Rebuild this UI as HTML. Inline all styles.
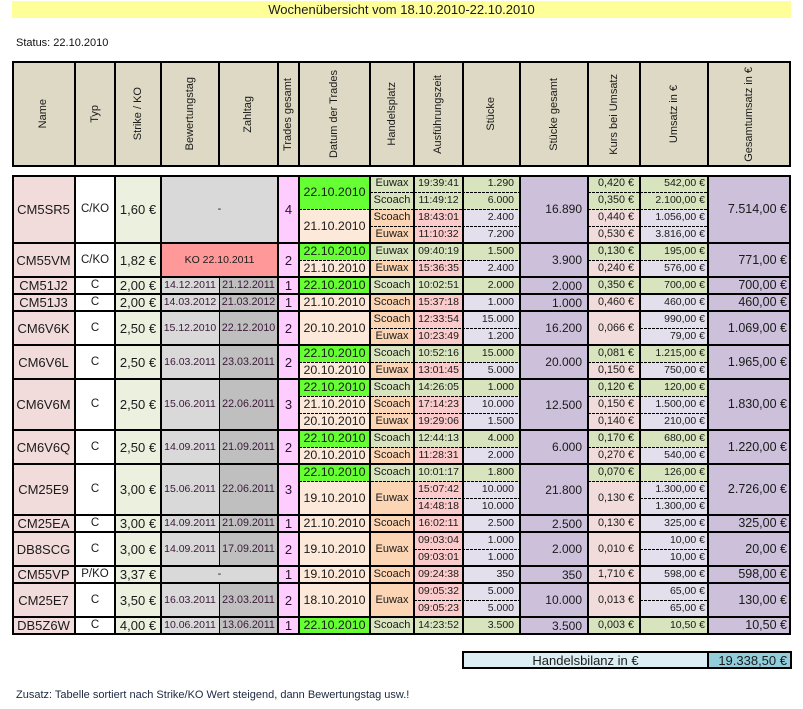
<!DOCTYPE html>
<html><head><meta charset="utf-8">
<style>
html,body{margin:0;padding:0;background:#fff;}
body{width:803px;height:709px;position:relative;overflow:hidden;font-family:"Liberation Sans",Arial,sans-serif;color:#1a1a1a;}
.c{position:absolute;display:flex;align-items:center;justify-content:center;box-sizing:border-box;white-space:nowrap;overflow:hidden;line-height:1;}
.A{left:12px;width:63px;background:#F2DCDB;font-size:13px;}
.B{left:75px;width:40px;background:#fff;font-size:11.5px;display:block;text-align:center;}
.B.h1{line-height:17px;}.B.h2{line-height:34px;}.B.h3{line-height:51px;}.B.h4{line-height:68px;}
.C{left:115px;width:46px;background:#EBF1DE;font-size:13px;}
.D{left:161px;width:58px;background:#D9D9D9;font-size:10.5px;color:#3a1838;}
.E{left:219px;width:59px;background:#BFBFBF;font-size:10.7px;color:#3a1838;}
.DE{left:161px;width:117px;background:#D9D9D9;font-size:11px;}
.KO{background:#FF9999;font-size:10.5px;}
.F{left:278px;width:21px;background:#FFCCFF;font-size:13px;color:#2a1030;}
.G{left:299px;width:71px;background:#FDE9D9;font-size:12.4px;}
.G.g{background:#66FF33;}
.H{left:370px;width:44px;background:#FCD5B4;font-size:11px;}
.I{left:414px;width:49px;background:#FBCACA;font-size:10.5px;}
.J{left:463px;width:57px;background:#E4DFEC;font-size:10.5px;justify-content:flex-end;padding-right:6px;}
.K{left:520px;width:68px;background:#CCC0DA;font-size:12px;justify-content:flex-end;padding-right:6px;}
.L{left:588px;width:52px;background:#F2DCDB;font-size:10.8px;justify-content:flex-end;padding-right:6px;}
.M{left:640px;width:68px;background:#E4DFEC;font-size:10.5px;justify-content:flex-end;padding-right:3px;}
.N{left:708px;width:83px;background:#CCC0DA;font-size:12.5px;justify-content:flex-end;padding-right:4px;}
.v{background:#D7E4BD !important;}
.h1{height:17px;}.h2{height:34px;}.h3{height:51px;}.h4{height:68px;}
.hl{position:absolute;left:12px;width:779px;height:2px;background:#000;}
.vl{position:absolute;top:175px;height:460px;width:2px;background:#000;}
.dl{position:absolute;height:1px;background:repeating-linear-gradient(90deg,#000 0 3px,transparent 3px 4px);}
.GJ{left:299px;width:221px;}.HJ{left:370px;width:150px;}.IJ{left:414px;width:106px;}.LM{left:588px;width:120px;}.Mo{left:640px;width:68px;}
.hd{position:absolute;top:61px;height:106px;display:flex;align-items:center;justify-content:center;font-size:11px;background:#DDD9C4;}
.vt{writing-mode:vertical-rl;transform:rotate(180deg);white-space:nowrap;line-height:1;}
.hv{position:absolute;top:61px;height:106px;width:2px;background:#000;}
</style></head><body>

<!-- Title -->
<div class="c" style="left:12px;top:1px;width:779px;height:17px;background:#FFFF99;font-size:13px;">Wochenübersicht vom 18.10.2010-22.10.2010</div>
<div style="position:absolute;left:16px;top:37px;font-size:11px;line-height:12px;color:#111;">Status: 22.10.2010</div>

<!-- Header -->
<div class="hd" style="left:12px;width:63px;"><span class="vt">Name</span></div>
<div class="hd" style="left:75px;width:40px;"><span class="vt">Typ</span></div>
<div class="hd" style="left:115px;width:46px;"><span class="vt">Strike / KO</span></div>
<div class="hd" style="left:161px;width:58px;"><span class="vt">Bewertungstag</span></div>
<div class="hd" style="left:219px;width:59px;"><span class="vt">Zahltag</span></div>
<div class="hd" style="left:278px;width:21px;"><span class="vt">Trades gesamt</span></div>
<div class="hd" style="left:299px;width:71px;"><span class="vt">Datum der Trades</span></div>
<div class="hd" style="left:370px;width:44px;"><span class="vt">Handelsplatz</span></div>
<div class="hd" style="left:414px;width:49px;"><span class="vt">Ausführungszeit</span></div>
<div class="hd" style="left:463px;width:57px;"><span class="vt">Stücke</span></div>
<div class="hd" style="left:520px;width:68px;"><span class="vt">Stücke gesamt</span></div>
<div class="hd" style="left:588px;width:52px;"><span class="vt">Kurs bei Umsatz</span></div>
<div class="hd" style="left:640px;width:68px;"><span class="vt">Umsatz in €</span></div>
<div class="hd" style="left:708px;width:83px;"><span class="vt">Gesamtumsatz in €</span></div>
<div class="hl" style="top:61px;"></div>
<div class="hl" style="top:165px;"></div>
<div class="hv" style="left:12px;"></div><div class="hv" style="left:789px;"></div>
<div class="hv" style="left:74px;"></div><div class="hv" style="left:114px;"></div><div class="hv" style="left:160px;"></div>
<div class="hv" style="left:218px;"></div><div class="hv" style="left:277px;"></div><div class="hv" style="left:298px;"></div>
<div class="hv" style="left:369px;"></div><div class="hv" style="left:413px;"></div><div class="hv" style="left:462px;"></div>
<div class="hv" style="left:519px;"></div><div class="hv" style="left:587px;"></div><div class="hv" style="left:639px;"></div>
<div class="hv" style="left:707px;"></div>

<!-- G1 CM5SR5 -->
<div class="c A h4" style="top:175px;">CM5SR5</div>
<div class="c B h4" style="top:175px;">C/KO</div>
<div class="c C h4" style="top:175px;">1,60 €</div>
<div class="c DE h4" style="top:175px;">-</div>
<div class="c F h4" style="top:175px;">4</div>
<div class="c G g h2" style="top:175px;">22.10.2010</div>
<div class="c G h2" style="top:209px;">21.10.2010</div>
<div class="c H v h1" style="top:175px;">Euwax</div>
<div class="c H v h1" style="top:192px;">Scoach</div>
<div class="c H h1" style="top:209px;">Scoach</div>
<div class="c H h1" style="top:226px;">Euwax</div>
<div class="c I v h1" style="top:175px;">19:39:41</div>
<div class="c I v h1" style="top:192px;">11:49:12</div>
<div class="c I h1" style="top:209px;">18:43:01</div>
<div class="c I h1" style="top:226px;">11:10:32</div>
<div class="c J v h1" style="top:175px;">1.290</div>
<div class="c J v h1" style="top:192px;">6.000</div>
<div class="c J h1" style="top:209px;">2.400</div>
<div class="c J h1" style="top:226px;">7.200</div>
<div class="c K h4" style="top:175px;">16.890</div>
<div class="c L v h1" style="top:175px;">0,420 €</div>
<div class="c L v h1" style="top:192px;">0,350 €</div>
<div class="c L h1" style="top:209px;">0,440 €</div>
<div class="c L h1" style="top:226px;">0,530 €</div>
<div class="c M v h1" style="top:175px;">542,00 €</div>
<div class="c M v h1" style="top:192px;">2.100,00 €</div>
<div class="c M h1" style="top:209px;">1.056,00 €</div>
<div class="c M h1" style="top:226px;">3.816,00 €</div>
<div class="c N h4" style="top:175px;">7.514,00 €</div>

<!-- G2 CM55VM -->
<div class="c A h2" style="top:243px;">CM55VM</div>
<div class="c B h2" style="top:243px;">C/KO</div>
<div class="c C h2" style="top:243px;">1,82 €</div>
<div class="c DE KO h2" style="top:243px;">KO 22.10.2011</div>
<div class="c F h2" style="top:243px;">2</div>
<div class="c G g h1" style="top:243px;">22.10.2010</div>
<div class="c G h1" style="top:260px;">21.10.2010</div>
<div class="c H v h1" style="top:243px;">Euwax</div>
<div class="c H h1" style="top:260px;">Euwax</div>
<div class="c I v h1" style="top:243px;">09:40:19</div>
<div class="c I h1" style="top:260px;">15:36:35</div>
<div class="c J v h1" style="top:243px;">1.500</div>
<div class="c J h1" style="top:260px;">2.400</div>
<div class="c K h2" style="top:243px;">3.900</div>
<div class="c L v h1" style="top:243px;">0,130 €</div>
<div class="c L h1" style="top:260px;">0,240 €</div>
<div class="c M v h1" style="top:243px;">195,00 €</div>
<div class="c M h1" style="top:260px;">576,00 €</div>
<div class="c N h2" style="top:243px;">771,00 €</div>

<!-- G3 CM51J2 -->
<div class="c A h1" style="top:277px;">CM51J2</div>
<div class="c B h1" style="top:277px;">C</div>
<div class="c C h1" style="top:277px;">2,00 €</div>
<div class="c D h1" style="top:277px;">14.12.2011</div>
<div class="c E h1" style="top:277px;">21.12.2011</div>
<div class="c F h1" style="top:277px;">1</div>
<div class="c G g h1" style="top:277px;">22.10.2010</div>
<div class="c H v h1" style="top:277px;">Scoach</div>
<div class="c I v h1" style="top:277px;">10:02:51</div>
<div class="c J v h1" style="top:277px;">2.000</div>
<div class="c K h1" style="top:277px;">2.000</div>
<div class="c L v h1" style="top:277px;">0,350 €</div>
<div class="c M v h1" style="top:277px;">700,00 €</div>
<div class="c N h1" style="top:277px;">700,00 €</div>

<!-- G4 CM51J3 -->
<div class="c A h1" style="top:294px;">CM51J3</div>
<div class="c B h1" style="top:294px;">C</div>
<div class="c C h1" style="top:294px;">2,00 €</div>
<div class="c D h1" style="top:294px;">14.03.2012</div>
<div class="c E h1" style="top:294px;">21.03.2012</div>
<div class="c F h1" style="top:294px;">1</div>
<div class="c G h1" style="top:294px;">21.10.2010</div>
<div class="c H h1" style="top:294px;">Scoach</div>
<div class="c I h1" style="top:294px;">15:37:18</div>
<div class="c J h1" style="top:294px;">1.000</div>
<div class="c K h1" style="top:294px;">1.000</div>
<div class="c L h1" style="top:294px;">0,460 €</div>
<div class="c M h1" style="top:294px;">460,00 €</div>
<div class="c N h1" style="top:294px;">460,00 €</div>

<!-- G5 CM6V6K -->
<div class="c A h2" style="top:311px;">CM6V6K</div>
<div class="c B h2" style="top:311px;">C</div>
<div class="c C h2" style="top:311px;">2,50 €</div>
<div class="c D h2" style="top:311px;">15.12.2010</div>
<div class="c E h2" style="top:311px;">22.12.2010</div>
<div class="c F h2" style="top:311px;">2</div>
<div class="c G h2" style="top:311px;">20.10.2010</div>
<div class="c H h1" style="top:311px;">Scoach</div>
<div class="c H h1" style="top:328px;">Euwax</div>
<div class="c I h1" style="top:311px;">12:33:54</div>
<div class="c I h1" style="top:328px;">10:23:49</div>
<div class="c J h1" style="top:311px;">15.000</div>
<div class="c J h1" style="top:328px;">1.200</div>
<div class="c K h2" style="top:311px;">16.200</div>
<div class="c L h2" style="top:311px;">0,066 €</div>
<div class="c M h1" style="top:311px;">990,00 €</div>
<div class="c M h1" style="top:328px;">79,00 €</div>
<div class="c N h2" style="top:311px;">1.069,00 €</div>

<!-- G6 CM6V6L -->
<div class="c A h2" style="top:345px;">CM6V6L</div>
<div class="c B h2" style="top:345px;">C</div>
<div class="c C h2" style="top:345px;">2,50 €</div>
<div class="c D h2" style="top:345px;">16.03.2011</div>
<div class="c E h2" style="top:345px;">23.03.2011</div>
<div class="c F h2" style="top:345px;">2</div>
<div class="c G g h1" style="top:345px;">22.10.2010</div>
<div class="c G h1" style="top:362px;">20.10.2010</div>
<div class="c H v h1" style="top:345px;">Scoach</div>
<div class="c H h1" style="top:362px;">Euwax</div>
<div class="c I v h1" style="top:345px;">10:52:16</div>
<div class="c I h1" style="top:362px;">13:01:45</div>
<div class="c J v h1" style="top:345px;">15.000</div>
<div class="c J h1" style="top:362px;">5.000</div>
<div class="c K h2" style="top:345px;">20.000</div>
<div class="c L v h1" style="top:345px;">0,081 €</div>
<div class="c L h1" style="top:362px;">0,150 €</div>
<div class="c M v h1" style="top:345px;">1.215,00 €</div>
<div class="c M h1" style="top:362px;">750,00 €</div>
<div class="c N h2" style="top:345px;">1.965,00 €</div>

<!-- G7 CM6V6M -->
<div class="c A h3" style="top:379px;">CM6V6M</div>
<div class="c B h3" style="top:379px;">C</div>
<div class="c C h3" style="top:379px;">2,50 €</div>
<div class="c D h3" style="top:379px;">15.06.2011</div>
<div class="c E h3" style="top:379px;">22.06.2011</div>
<div class="c F h3" style="top:379px;">3</div>
<div class="c G g h1" style="top:379px;">22.10.2010</div>
<div class="c G h1" style="top:396px;">21.10.2010</div>
<div class="c G h1" style="top:413px;">20.10.2010</div>
<div class="c H v h1" style="top:379px;">Scoach</div>
<div class="c H h1" style="top:396px;">Scoach</div>
<div class="c H h1" style="top:413px;">Euwax</div>
<div class="c I v h1" style="top:379px;">14:26:05</div>
<div class="c I h1" style="top:396px;">17:14:23</div>
<div class="c I h1" style="top:413px;">19:29:06</div>
<div class="c J v h1" style="top:379px;">1.000</div>
<div class="c J h1" style="top:396px;">10.000</div>
<div class="c J h1" style="top:413px;">1.500</div>
<div class="c K h3" style="top:379px;">12.500</div>
<div class="c L v h1" style="top:379px;">0,120 €</div>
<div class="c L h1" style="top:396px;">0,150 €</div>
<div class="c L h1" style="top:413px;">0,140 €</div>
<div class="c M v h1" style="top:379px;">120,00 €</div>
<div class="c M h1" style="top:396px;">1.500,00 €</div>
<div class="c M h1" style="top:413px;">210,00 €</div>
<div class="c N h3" style="top:379px;">1.830,00 €</div>

<!-- G8 CM6V6Q -->
<div class="c A h2" style="top:430px;">CM6V6Q</div>
<div class="c B h2" style="top:430px;">C</div>
<div class="c C h2" style="top:430px;">2,50 €</div>
<div class="c D h2" style="top:430px;">14.09.2011</div>
<div class="c E h2" style="top:430px;">21.09.2011</div>
<div class="c F h2" style="top:430px;">2</div>
<div class="c G g h1" style="top:430px;">22.10.2010</div>
<div class="c G h1" style="top:447px;">20.10.2010</div>
<div class="c H v h1" style="top:430px;">Scoach</div>
<div class="c H h1" style="top:447px;">Scoach</div>
<div class="c I v h1" style="top:430px;">12:44:13</div>
<div class="c I h1" style="top:447px;">11:28:31</div>
<div class="c J v h1" style="top:430px;">4.000</div>
<div class="c J h1" style="top:447px;">2.000</div>
<div class="c K h2" style="top:430px;">6.000</div>
<div class="c L v h1" style="top:430px;">0,170 €</div>
<div class="c L h1" style="top:447px;">0,270 €</div>
<div class="c M v h1" style="top:430px;">680,00 €</div>
<div class="c M h1" style="top:447px;">540,00 €</div>
<div class="c N h2" style="top:430px;">1.220,00 €</div>

<!-- G9 CM25E9 -->
<div class="c A h3" style="top:464px;">CM25E9</div>
<div class="c B h3" style="top:464px;">C</div>
<div class="c C h3" style="top:464px;">3,00 €</div>
<div class="c D h3" style="top:464px;">15.06.2011</div>
<div class="c E h3" style="top:464px;">22.06.2011</div>
<div class="c F h3" style="top:464px;">3</div>
<div class="c G g h1" style="top:464px;">22.10.2010</div>
<div class="c G h2" style="top:481px;">19.10.2010</div>
<div class="c H v h1" style="top:464px;">Scoach</div>
<div class="c H h2" style="top:481px;">Euwax</div>
<div class="c I v h1" style="top:464px;">10:01:17</div>
<div class="c I h1" style="top:481px;">15:07:42</div>
<div class="c I h1" style="top:498px;">14:48:18</div>
<div class="c J v h1" style="top:464px;">1.800</div>
<div class="c J h1" style="top:481px;">10.000</div>
<div class="c J h1" style="top:498px;">10.000</div>
<div class="c K h3" style="top:464px;">21.800</div>
<div class="c L v h1" style="top:464px;">0,070 €</div>
<div class="c L h2" style="top:481px;">0,130 €</div>
<div class="c M v h1" style="top:464px;">126,00 €</div>
<div class="c M h1" style="top:481px;">1.300,00 €</div>
<div class="c M h1" style="top:498px;">1.300,00 €</div>
<div class="c N h3" style="top:464px;">2.726,00 €</div>

<!-- G10 CM25EA -->
<div class="c A h1" style="top:515px;">CM25EA</div>
<div class="c B h1" style="top:515px;">C</div>
<div class="c C h1" style="top:515px;">3,00 €</div>
<div class="c D h1" style="top:515px;">14.09.2011</div>
<div class="c E h1" style="top:515px;">21.09.2011</div>
<div class="c F h1" style="top:515px;">1</div>
<div class="c G h1" style="top:515px;">21.10.2010</div>
<div class="c H h1" style="top:515px;">Scoach</div>
<div class="c I h1" style="top:515px;">16:02:11</div>
<div class="c J h1" style="top:515px;">2.500</div>
<div class="c K h1" style="top:515px;">2.500</div>
<div class="c L h1" style="top:515px;">0,130 €</div>
<div class="c M h1" style="top:515px;">325,00 €</div>
<div class="c N h1" style="top:515px;">325,00 €</div>

<!-- G11 DB8SCG -->
<div class="c A h2" style="top:532px;">DB8SCG</div>
<div class="c B h2" style="top:532px;">C</div>
<div class="c C h2" style="top:532px;">3,00 €</div>
<div class="c D h2" style="top:532px;">14.09.2011</div>
<div class="c E h2" style="top:532px;">17.09.2011</div>
<div class="c F h2" style="top:532px;">2</div>
<div class="c G h2" style="top:532px;">19.10.2010</div>
<div class="c H h2" style="top:532px;">Euwax</div>
<div class="c I h1" style="top:532px;">09:03:04</div>
<div class="c I h1" style="top:549px;">09:03:01</div>
<div class="c J h1" style="top:532px;">1.000</div>
<div class="c J h1" style="top:549px;">1.000</div>
<div class="c K h2" style="top:532px;">2.000</div>
<div class="c L h2" style="top:532px;">0,010 €</div>
<div class="c M h1" style="top:532px;">10,00 €</div>
<div class="c M h1" style="top:549px;">10,00 €</div>
<div class="c N h2" style="top:532px;">20,00 €</div>

<!-- G12 CM55VP -->
<div class="c A h1" style="top:566px;">CM55VP</div>
<div class="c B h1" style="top:566px;">P/KO</div>
<div class="c C h1" style="top:566px;">3,37 €</div>
<div class="c DE h1" style="top:566px;">-</div>
<div class="c F h1" style="top:566px;">1</div>
<div class="c G h1" style="top:566px;">19.10.2010</div>
<div class="c H h1" style="top:566px;">Scoach</div>
<div class="c I h1" style="top:566px;">09:24:38</div>
<div class="c J h1" style="top:566px;">350</div>
<div class="c K h1" style="top:566px;">350</div>
<div class="c L h1" style="top:566px;">1,710 €</div>
<div class="c M h1" style="top:566px;">598,00 €</div>
<div class="c N h1" style="top:566px;">598,00 €</div>

<!-- G13 CM25E7 -->
<div class="c A h2" style="top:583px;">CM25E7</div>
<div class="c B h2" style="top:583px;">C</div>
<div class="c C h2" style="top:583px;">3,50 €</div>
<div class="c D h2" style="top:583px;">16.03.2011</div>
<div class="c E h2" style="top:583px;">23.03.2011</div>
<div class="c F h2" style="top:583px;">2</div>
<div class="c G h2" style="top:583px;">18.10.2010</div>
<div class="c H h2" style="top:583px;">Euwax</div>
<div class="c I h1" style="top:583px;">09:05:32</div>
<div class="c I h1" style="top:600px;">09:05:23</div>
<div class="c J h1" style="top:583px;">5.000</div>
<div class="c J h1" style="top:600px;">5.000</div>
<div class="c K h2" style="top:583px;">10.000</div>
<div class="c L h2" style="top:583px;">0,013 €</div>
<div class="c M h1" style="top:583px;">65,00 €</div>
<div class="c M h1" style="top:600px;">65,00 €</div>
<div class="c N h2" style="top:583px;">130,00 €</div>

<!-- G14 DB5Z6W -->
<div class="c A h1" style="top:617px;">DB5Z6W</div>
<div class="c B h1" style="top:617px;">C</div>
<div class="c C h1" style="top:617px;">4,00 €</div>
<div class="c D h1" style="top:617px;">10.06.2011</div>
<div class="c E h1" style="top:617px;">13.06.2011</div>
<div class="c F h1" style="top:617px;">1</div>
<div class="c G g h1" style="top:617px;">22.10.2010</div>
<div class="c H v h1" style="top:617px;">Scoach</div>
<div class="c I v h1" style="top:617px;">14:23:52</div>
<div class="c J v h1" style="top:617px;">3.500</div>
<div class="c K h1" style="top:617px;">3.500</div>
<div class="c L v h1" style="top:617px;">0,003 €</div>
<div class="c M v h1" style="top:617px;">10,50 €</div>
<div class="c N h1" style="top:617px;">10,50 €</div>

<!-- dashed intra-group lines -->
<div class="dl HJ" style="top:192px;"></div><div class="dl LM" style="top:192px;"></div>
<div class="dl GJ" style="top:209px;"></div><div class="dl LM" style="top:209px;"></div>
<div class="dl HJ" style="top:226px;"></div><div class="dl LM" style="top:226px;"></div>
<div class="dl GJ" style="top:260px;"></div><div class="dl LM" style="top:260px;"></div>
<div class="dl HJ" style="top:328px;"></div><div class="dl Mo" style="top:328px;"></div>
<div class="dl GJ" style="top:362px;"></div><div class="dl LM" style="top:362px;"></div>
<div class="dl GJ" style="top:396px;"></div><div class="dl LM" style="top:396px;"></div>
<div class="dl GJ" style="top:413px;"></div><div class="dl LM" style="top:413px;"></div>
<div class="dl GJ" style="top:447px;"></div><div class="dl LM" style="top:447px;"></div>
<div class="dl GJ" style="top:481px;"></div><div class="dl LM" style="top:481px;"></div>
<div class="dl IJ" style="top:498px;"></div><div class="dl Mo" style="top:498px;"></div>
<div class="dl IJ" style="top:549px;"></div><div class="dl Mo" style="top:549px;"></div>
<div class="dl IJ" style="top:600px;"></div><div class="dl Mo" style="top:600px;"></div>

<!-- vertical lines data -->
<div class="vl" style="left:12px;"></div>
<div class="vl" style="left:789px;"></div>
<div class="vl" style="left:74px;"></div>
<div class="vl" style="left:114px;"></div>
<div class="vl" style="left:160px;"></div>
<div class="vl" style="left:277px;"></div>
<div class="vl" style="left:298px;"></div>
<div class="vl" style="left:369px;"></div>
<div class="vl" style="left:413px;"></div>
<div class="vl" style="left:462px;"></div>
<div class="vl" style="left:519px;"></div>
<div class="vl" style="left:587px;"></div>
<div class="vl" style="left:639px;"></div>
<div class="vl" style="left:707px;"></div>
<div class="vl" style="left:219px;top:277px;height:289px;width:1px;"></div>
<div class="vl" style="left:219px;top:583px;height:51px;width:1px;"></div>

<!-- horizontal group lines -->
<div class="hl" style="top:175px;"></div>
<div class="hl" style="top:242px;"></div>
<div class="hl" style="top:276px;"></div>
<div class="hl" style="top:293px;"></div>
<div class="hl" style="top:310px;"></div>
<div class="hl" style="top:344px;"></div>
<div class="hl" style="top:378px;"></div>
<div class="hl" style="top:429px;"></div>
<div class="hl" style="top:463px;"></div>
<div class="hl" style="top:514px;"></div>
<div class="hl" style="top:531px;"></div>
<div class="hl" style="top:565px;"></div>
<div class="hl" style="top:582px;"></div>
<div class="hl" style="top:616px;"></div>
<div class="hl" style="top:633px;"></div>

<!-- Handelsbilanz -->
<div class="c" style="left:463px;top:652px;width:245px;height:16px;background:#DAEEF3;font-size:13px;">Handelsbilanz in €</div>
<div class="c" style="left:708px;top:652px;width:83px;height:16px;background:#92CDDC;font-size:13px;justify-content:flex-end;padding-right:4px;">19.338,50 €</div>
<div style="position:absolute;left:462px;top:651px;width:330px;height:18px;border:2px solid #000;box-sizing:border-box;"></div>
<div style="position:absolute;left:707px;top:652px;width:2px;height:16px;background:#000;"></div>

<div style="position:absolute;left:16px;top:689px;font-size:11px;line-height:12px;color:#1c2840;white-space:nowrap;">Zusatz: Tabelle sortiert nach Strike/KO Wert steigend, dann Bewertungstag usw.!</div>

</body></html>
